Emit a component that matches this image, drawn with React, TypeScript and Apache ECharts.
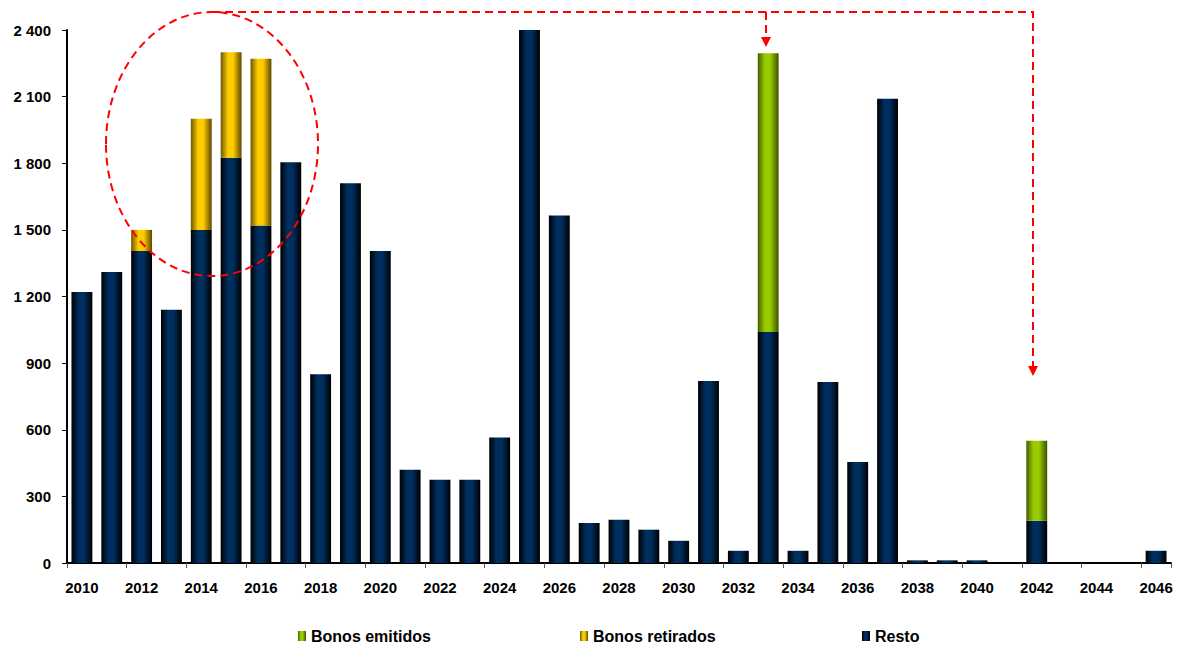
import React, { useEffect, useRef } from "react";
import * as echarts from "echarts";

const years: string[] = [
  "2010","2011","2012","2013","2014","2015","2016","2017","2018","2019",
  "2020","2021","2022","2023","2024","2025","2026","2027","2028","2029",
  "2030","2031","2032","2033","2034","2035","2036","2037","2038","2039",
  "2040","2041","2042","2043","2044","2045","2046",
];

const resto: number[] = [
  1220, 1310, 1405, 1140, 1500, 1825, 1520, 1805, 850, 1710,
  1405, 420, 375, 375, 565, 2400, 1565, 180, 195, 150,
  100, 820, 55, 1040, 55, 815, 455, 2090, 12, 12,
  12, 0, 190, 0, 0, 0, 55,
];

const bonosRetirados: (number | null)[] = [
  null, null, 95, null, 500, 475, 750, null, null, null,
  null, null, null, null, null, null, null, null, null, null,
  null, null, null, null, null, null, null, null, null, null,
  null, null, null, null, null, null, null,
];

const bonosEmitidos: (number | null)[] = [
  null, null, null, null, null, null, null, null, null, null,
  null, null, null, null, null, null, null, null, null, null,
  null, null, null, 1255, null, null, null, null, null, null,
  null, null, 360, null, null, null, null,
];

const yTicks = { min: 0, max: 2400, interval: 300 };

const FONT = "'Liberation Sans', Arial, Helvetica, sans-serif";

function grad(edgeL: string, mid: string, edgeR: string) {
  return new echarts.graphic.LinearGradient(0, 0, 1, 0, [
    { offset: 0, color: edgeL },
    { offset: 0.35, color: mid },
    { offset: 0.6, color: mid },
    { offset: 1, color: edgeR },
  ]);
}

export default function App() {
  const ref = useRef<HTMLDivElement>(null);

  useEffect(() => {
    if (!ref.current) return;
    const chart = echarts.init(ref.current, null, { renderer: "svg" });

    const red = "#ff0000";
    const dash = [8, 5];
    const legendText = { fontFamily: FONT, fontWeight: "bold", fontSize: 16, color: "#000000" };
    const legendBase = { top: 628, itemWidth: 8, itemHeight: 10, itemGap: 6, icon: "rect", textStyle: legendText, selectedMode: false, padding: 0 };

    const option: any = {
      animation: false,
      backgroundColor: "#ffffff",
      grid: { left: 67, right: 15, top: 30, bottom: 85, containLabel: false },
      xAxis: {
        type: "category",
        data: years,
        boundaryGap: true,
        axisLine: { lineStyle: { color: "#000000", width: 2 } },
        axisTick: { show: true, interval: 1, length: 5, lineStyle: { color: "#555555", width: 1 } },
        axisLabel: {
          interval: 1,
          margin: 17,
          color: "#000000",
          fontFamily: FONT,
          fontWeight: "bold",
          fontSize: 15,
        },
        splitLine: { show: false },
      },
      yAxis: {
        type: "value",
        min: yTicks.min,
        max: yTicks.max,
        interval: yTicks.interval,
        axisLine: { show: true, lineStyle: { color: "#000000", width: 2 } },
        axisTick: { show: true, length: 5, lineStyle: { color: "#000000", width: 1 } },
        splitLine: { show: false },
        axisLabel: {
          margin: 16,
          color: "#000000",
          fontFamily: FONT,
          fontWeight: "bold",
          fontSize: 15,
          formatter: (v: number) =>
            v >= 1000 ? `${Math.floor(v / 1000)} ${String(v % 1000).padStart(3, "0")}` : String(v),
        },
      },
      legend: [
        { ...legendBase, data: ["Bonos emitidos"], left: 298 },
        { ...legendBase, data: ["Bonos retirados"], left: 580 },
        { ...legendBase, data: ["Resto"], left: 862 },
      ],
      series: [
        {
          name: "Resto",
          type: "bar",
          stack: "total",
          data: resto,
          barCategoryGap: "30%",
          itemStyle: { color: grad("#000000", "#002e5e", "#000000") },
        },
        {
          name: "Bonos retirados",
          type: "bar",
          stack: "total",
          data: bonosRetirados,
          barCategoryGap: "30%",
          itemStyle: { color: grad("#6e5600", "#ffcc00", "#5e4700") },
        },
        {
          name: "Bonos emitidos",
          type: "bar",
          stack: "total",
          data: bonosEmitidos,
          barCategoryGap: "30%",
          itemStyle: { color: grad("#455f00", "#99cc00", "#3a5000") },
        },
      ],
      graphic: [
        {
          type: "ellipse",
          shape: { cx: 212, cy: 144, rx: 106, ry: 132 },
          style: { fill: "none", stroke: red, lineWidth: 2, lineDash: dash },
          z: 100,
        },
        {
          type: "polyline",
          shape: { points: [[212, 12], [1033, 12], [1033, 366]] },
          style: { fill: "none", stroke: red, lineWidth: 2, lineDash: dash },
          z: 100,
        },
        {
          type: "line",
          shape: { x1: 766, y1: 12, x2: 766, y2: 37 },
          style: { stroke: red, lineWidth: 2, lineDash: [8, 5] },
          z: 100,
        },
        {
          type: "polygon",
          shape: { points: [[761, 37], [771, 37], [766, 47]] },
          style: { fill: red },
          z: 100,
        },
        {
          type: "polygon",
          shape: { points: [[1028, 366], [1038, 366], [1033, 376]] },
          style: { fill: red },
          z: 100,
        },
      ],
    };

    chart.setOption(option);
    return () => chart.dispose();
  }, []);

  return (
    <div
      ref={ref}
      style={{ position: "absolute", left: 0, top: 0, width: 1186, height: 648 }}
    />
  );
}
